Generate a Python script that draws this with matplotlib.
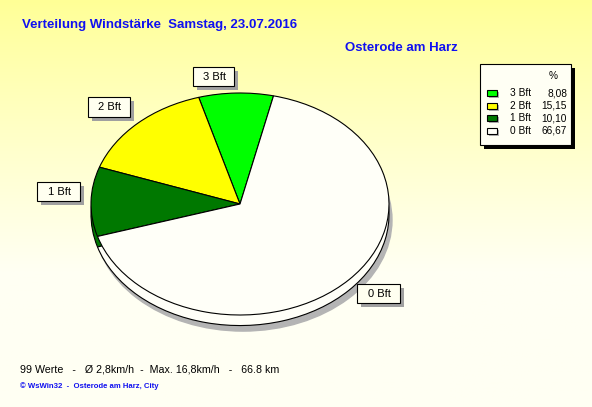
import numpy as np
import matplotlib
matplotlib.use("Agg")
import matplotlib.pyplot as plt
from matplotlib.patches import Rectangle, Ellipse

plt.rcParams["font.family"] = ["Liberation Sans", "DejaVu Sans"]

# data
categories = ["3 Bft", "2 Bft", "1 Bft", "0 Bft"]
percent = [8.08, 15.15, 10.10, 66.67]
percent_text = ["8,08", "15,15", "10,10", "66,67"]
colors = ["#00FF00", "#FFFF00", "#007800", "#FFFFF8"]

title = "Verteilung Windstärke  Samstag, 23.07.2016"
station = "Osterode am Harz"
summary = "99 Werte   -   Ø 2,8km/h  -  Max. 16,8km/h   -   66.8 km"
footer = "© WsWin32  -  Osterode am Harz, City"

W, H = 592, 407
fig = plt.figure(figsize=(W / 100, H / 100), dpi=100)

# background gradient
bg = fig.add_axes([0, 0, 1, 1], zorder=0)
bg.set_xlim(0, W)
bg.set_ylim(H, 0)
bg.axis("off")
t = np.linspace(0, 1, 256)[:, None]
t = np.clip(t * 1.5, 0, 1) ** 0.9
top = np.array([255, 255, 150]) / 255
bot = np.array([255, 255, 243]) / 255
grad = top + (bot - top) * t
grad = np.repeat(grad[:, None, :], 2, axis=1).reshape(256, 2, 3)
bg.imshow(grad, extent=(0, W, H, 0), aspect="auto", zorder=0)

bg.text(22, 25, title, color="#1010F0", fontsize=9.5, fontweight="bold", va="center")
bg.text(345, 48, station, color="#1010F0", fontsize=9.5, fontweight="bold", va="center")
bg.text(20, 369, summary, color="black", fontsize=7.7, va="center")
bg.text(20, 386, footer, color="#1010F0", fontsize=5.6, fontweight="bold", va="center")

# pie axes (elliptical)
cx, cy, rx, ry = 240, 204, 149, 111
xl, xr, yt, yb = -1.15, 1.15, 1.15, -1.35
pie_ax = fig.add_axes([(cx + rx * xl) / W, (H - (cy - ry * yb)) / H,
                       rx * (xr - xl) / W, ry * (yt - yb) / H], zorder=1)
pie_ax.patch.set_alpha(0)

depth = 0.095
start = 77
pie_ax.add_patch(Ellipse((0.02, -depth - 0.05), 2, 2, color="#B4B4B4", zorder=0))
pie_ax.pie(percent, colors=colors, startangle=start, counterclock=True,
           center=(0, -depth),
           wedgeprops=dict(edgecolor="black", linewidth=0.8))
pie_ax.pie(percent, colors=colors, startangle=start, counterclock=True,
           wedgeprops=dict(edgecolor="black", linewidth=0.8))
pie_ax.set_aspect("auto")
pie_ax.set_xlim(xl, xr)
pie_ax.set_ylim(yb, yt)
pie_ax.axis("off")

# overlay: labels and legend
ov = fig.add_axes([0, 0, 1, 1], zorder=2)
ov.set_xlim(0, W)
ov.set_ylim(H, 0)
ov.axis("off")
ov.patch.set_alpha(0)

label_boxes = {
    "3 Bft": (193, 67, 41, 19),
    "2 Bft": (88, 97, 42, 20),
    "1 Bft": (37, 182, 43, 19),
    "0 Bft": (357, 284, 43, 19),
}
for name in categories:
    x, y, w, h = label_boxes[name]
    ov.add_patch(Rectangle((x + 4, y + 4), w, h, facecolor="#A0A0A0", edgecolor="none"))
    ov.add_patch(Rectangle((x, y), w, h, facecolor="#FFFFF0", edgecolor="black", linewidth=0.8))
    ov.text(x + w / 2 + 1, y + h / 2 + 0.5, name, fontsize=8, ha="center", va="center")

# legend
lx, ly, lw, lh = 480, 64, 91, 81
ov.add_patch(Rectangle((lx + 4, ly + 4), lw, lh, facecolor="black", edgecolor="none"))
ov.add_patch(Rectangle((lx, ly), lw, lh, facecolor="#FFFFF4", edgecolor="black", linewidth=0.8))
ov.text(553, 76, "%", fontsize=7.3, ha="center", va="center")
for i, (name, txt, col) in enumerate(zip(categories, percent_text, colors)):
    yy = 93 + i * 12.6
    ov.add_patch(Rectangle((489, yy - 1), 10, 6, facecolor="#B0B0B0", edgecolor="none"))
    ov.add_patch(Rectangle((487, yy - 3), 10, 6, facecolor=col, edgecolor="black", linewidth=0.8))
    ov.text(510, yy, name, fontsize=7.3, va="center")
    ov.text(567, yy, txt, fontsize=7.3, va="center", ha="right")

fig.savefig("out.png", dpi=100)
